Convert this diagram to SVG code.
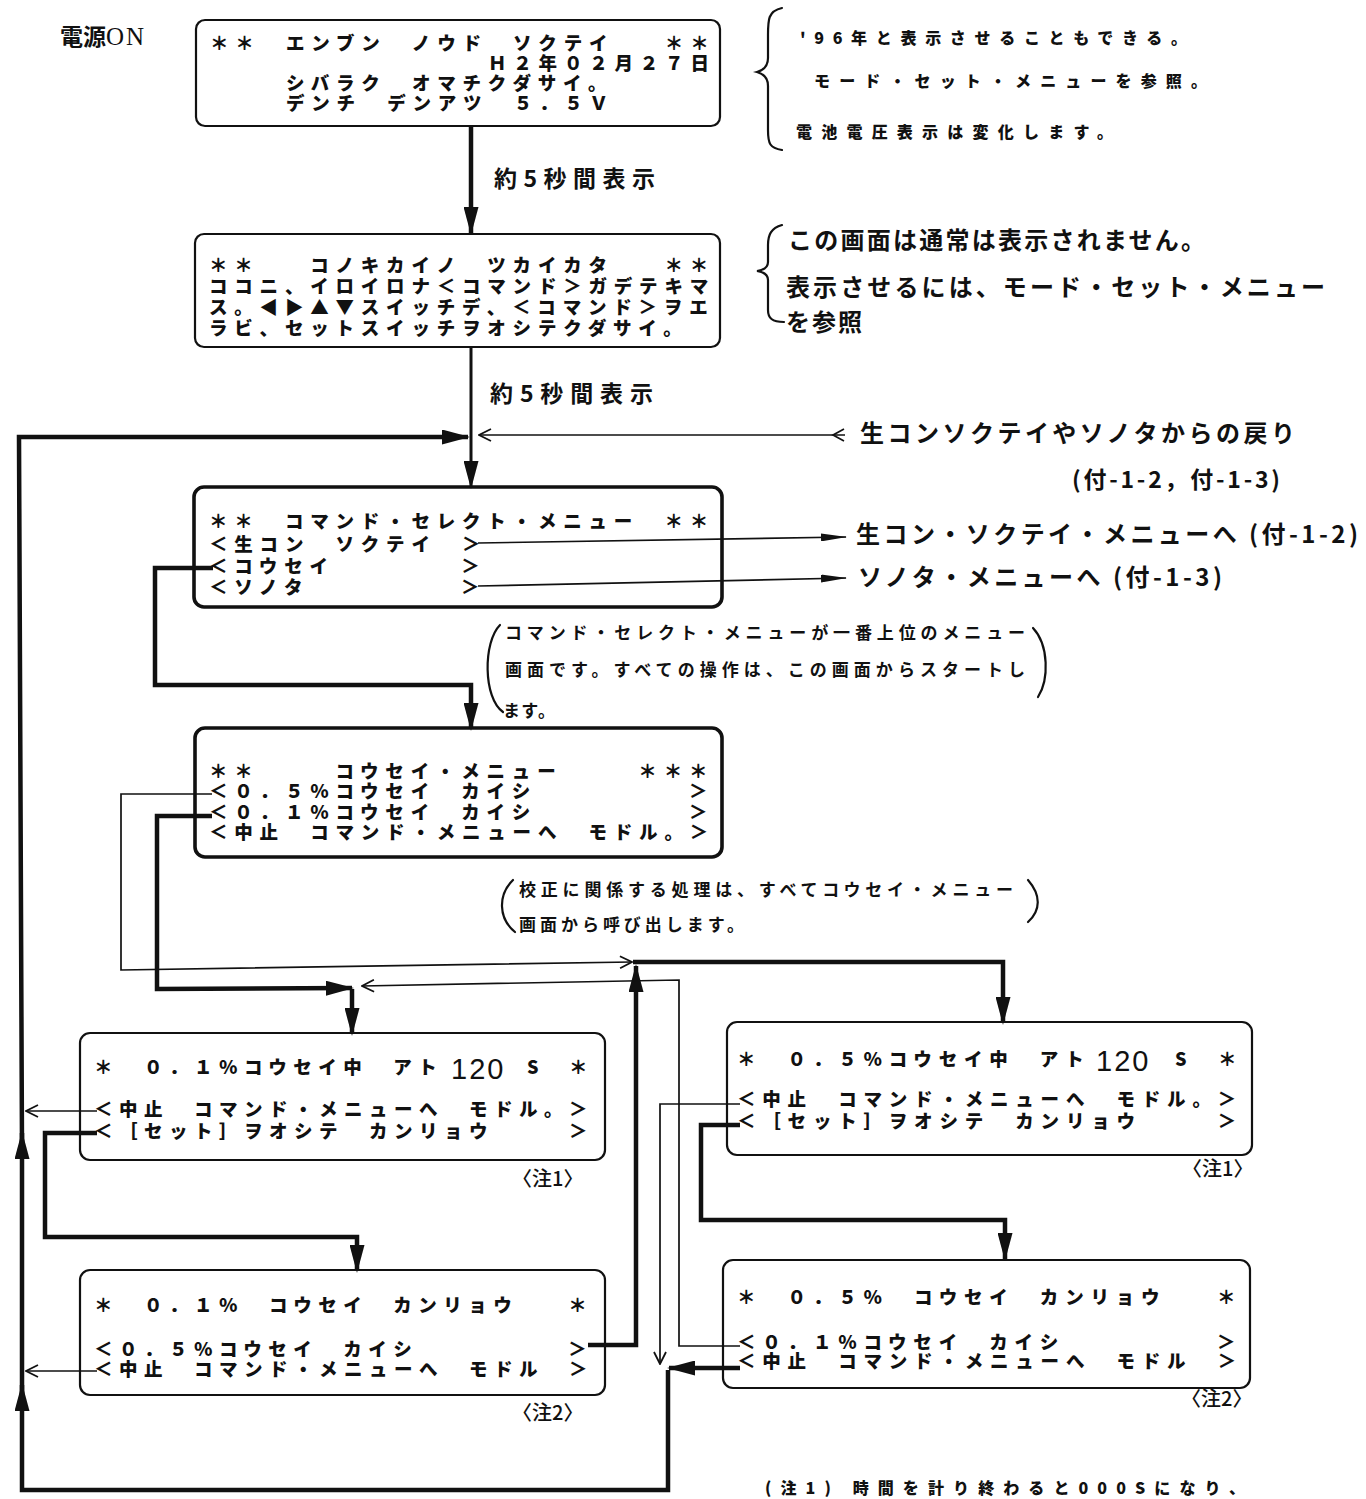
<svg xmlns="http://www.w3.org/2000/svg" width="1366" height="1499" viewBox="0 0 1366 1499">
<defs>
<style>
.bg{fill:#fff}
.box{fill:none;stroke:#111;stroke-width:2.2}
.boxb{fill:none;stroke:#111;stroke-width:3.6}
.lcd{font-family:"Noto Sans CJK JP","Noto Sans CJK SC",sans-serif;font-weight:900;font-size:18.5px;letter-spacing:6.8px;fill:#111}
.lcd25{letter-spacing:6.5px}
.num{font-family:"Liberation Sans",sans-serif;font-weight:400;font-size:29px;letter-spacing:2px;fill:#111}
.s{font-family:"Noto Sans CJK JP",sans-serif;font-weight:900;font-size:18px;fill:#111}
.lbl{font-family:"Noto Sans CJK JP","Noto Sans CJK SC",sans-serif;font-weight:700;font-size:23px;fill:#111}
.chu{font-family:"Noto Sans CJK JP","Noto Sans CJK SC",sans-serif;font-weight:500;font-size:20px;fill:#111}
.big{font-family:"Noto Sans CJK JP","Noto Sans CJK SC",sans-serif;font-weight:700;font-size:24px;fill:#111}
.note{font-family:"Noto Sans CJK JP","Noto Sans CJK SC",sans-serif;font-weight:900;font-size:16px;fill:#111}
.note2{font-family:"Noto Sans CJK JP","Noto Sans CJK SC",sans-serif;font-weight:700;font-size:17px;fill:#111}
.thick{fill:none;stroke:#111;stroke-width:4.5;stroke-linejoin:miter}
.med{fill:none;stroke:#111;stroke-width:3}
.thin{fill:none;stroke:#111;stroke-width:1.7}
.br{fill:none;stroke:#111;stroke-width:2.2;stroke-linecap:round}
</style>
<marker id="fa" markerUnits="userSpaceOnUse" viewBox="0 0 28 15" markerWidth="28" markerHeight="15" refX="26" refY="7.5" orient="auto">
<path d="M0,0 L28,7.5 L0,15 z" fill="#111"/>
</marker>
<marker id="ta" markerUnits="userSpaceOnUse" viewBox="0 0 26 8" markerWidth="26" markerHeight="8" refX="25" refY="4" orient="auto">
<path d="M0,0 L26,4 L0,8 z" fill="#111"/>
</marker>
<marker id="oa" markerUnits="userSpaceOnUse" viewBox="0 0 14 14" markerWidth="14" markerHeight="14" refX="13" refY="7" orient="auto">
<path d="M1,1 L13,7 L1,13" fill="none" stroke="#111" stroke-width="1.8"/>
</marker>
</defs>
<rect class="bg" x="0" y="0" width="1366" height="1499"/>

<g id="power-on">
<text x="60" y="45" class="lbl" font-size="22">電源<tspan font-family="Liberation Serif" font-weight="400" font-size="25" letter-spacing="2">ON</tspan></text>
</g>

<g id="box-startup">
<rect class="box" x="196" y="20" width="524" height="106" rx="9"/>
<text class="lcd"><tspan x="210" y="50">＊＊　エンブン　ノウド　ソクテイ　　＊＊</tspan><tspan x="488" y="70">Ｈ２年０２月２７日</tspan><tspan x="286" y="90">シバラク　オマチクダサイ。</tspan><tspan x="286" y="110">デンチ　デンアツ　５．５Ｖ</tspan></text>
</g>

<g id="note-startup">
<path class="br" d="M782,8 C768,11 768,20 768,35 L768,58 C768,66 764,70 757,72 C764,74 768,78 768,86 L768,130 C768,144 770,148 782,150"/>
<text class="note" x="800" y="44" textLength="387" lengthAdjust="spacing">'96年と表示させることもできる。</text>
<text class="note" x="814" y="87" textLength="393" lengthAdjust="spacing">モード・セット・メニューを参照。</text>
<text class="note" x="796" y="138" textLength="317" lengthAdjust="spacing">電池電圧表示は変化します。</text>
</g>

<g id="box-howto">
<rect class="box" x="195" y="234" width="525" height="113" rx="9"/>
<text class="lcd"><tspan x="209" y="272">＊＊　　コノキカイノ　ツカイカタ　　＊＊</tspan><tspan x="209" y="293">ココニ、イロイロナ＜コマンド＞ガデテキマ</tspan><tspan x="209" y="314">ス。◀▶▲▼スイッチデ、＜コマンド＞ヲエ</tspan><tspan x="209" y="335">ラビ、セットスイッチヲオシテクダサイ。</tspan></text>
</g>

<g id="note-howto">
<path class="br" d="M782,225 C771,228 768,235 768,245 L768,262 C768,267 764,270 757,271 C764,272 768,275 768,280 L768,310 C768,318 772,322 784,322"/>
<text class="big" x="788" y="249" textLength="417" lengthAdjust="spacing">この画面は通常は表示されません。</text>
<text class="big" x="786" y="296" textLength="539" lengthAdjust="spacing">表示させるには、モード・セット・メニュー</text>
<text class="big" x="786" y="331" textLength="76" lengthAdjust="spacing">を参照</text>
</g>

<g id="labels-wait">
<text class="lbl" x="494" y="187" textLength="161" lengthAdjust="spacing">約5秒間表示</text>
<text class="lbl" x="490" y="402" textLength="163" lengthAdjust="spacing">約5秒間表示</text>
</g>

<g id="label-return">
<text class="big" x="860" y="442" textLength="435" lengthAdjust="spacing">生コンソクテイやソノタからの戻り</text>
<text class="lbl" x="1072" y="488" textLength="208" lengthAdjust="spacing">(付-1-2，付-1-3)</text>
</g>

<g id="box-command-select">
<rect class="boxb" x="194" y="487" width="528" height="120" rx="10"/>
<text class="lcd"><tspan x="209" y="528">＊＊　コマンド・セレクト・メニュー　＊＊</tspan><tspan x="209" y="551">＜生コン　ソクテイ　＞</tspan><tspan x="209" y="573">＜コウセイ　　　　　＞</tspan><tspan x="209" y="594">＜ソノタ　　　　　　＞</tspan></text>
</g>

<g id="label-namacon">
<text class="big" x="856" y="543" textLength="502" lengthAdjust="spacing">生コン・ソクテイ・メニューへ (付-1-2)</text>
</g>
<g id="label-sonota">
<text class="big" x="858" y="586" textLength="364" lengthAdjust="spacing">ソノタ・メニューへ (付-1-3)</text>
</g>

<g id="note-command">
<path class="br" d="M500,625 C483,642 483,698 503,712"/>
<path class="br" d="M1033,628 C1049,645 1049,680 1038,697"/>
<text class="note2" x="505" y="639" textLength="520" lengthAdjust="spacing">コマンド・セレクト・メニューが一番上位のメニュー</text>
<text class="note2" x="505" y="676" textLength="520" lengthAdjust="spacing">画面です。すべての操作は、この画面からスタートし</text>
<text class="note2" x="503" y="717" textLength="52" lengthAdjust="spacing">ます。</text>
</g>

<g id="box-kousei-menu">
<rect class="boxb" x="195" y="728" width="527" height="129" rx="10"/>
<text class="lcd"><tspan x="209" y="778">＊＊　　　コウセイ・メニュー　　　＊＊＊</tspan><tspan x="209" y="798">＜０．５％コウセイ　カイシ　　　　　　＞</tspan><tspan x="209" y="819">＜０．１％コウセイ　カイシ　　　　　　＞</tspan><tspan x="209" y="839">＜中止　コマンド・メニューへ　モドル。＞</tspan></text>
</g>

<g id="note-kousei">
<path class="br" d="M513,880 C498,895 498,918 515,932"/>
<path class="br" d="M1028,880 C1041,895 1041,910 1028,922"/>
<text class="note2" x="519" y="896" textLength="494" lengthAdjust="spacing">校正に関係する処理は、すべてコウセイ・メニュー</text>
<text class="note2" x="519" y="931" textLength="225" lengthAdjust="spacing">画面から呼び出します。</text>
</g>

<g id="box-01-running">
<rect class="box" x="80" y="1033" width="525" height="127" rx="10"/>
<text class="lcd lcd25"><tspan x="94" y="1074">＊　０．１％コウセイ中　アト</tspan><tspan x="569" y="1074">＊</tspan><tspan x="94" y="1116">＜中止　コマンド・メニューへ　モドル。＞</tspan><tspan x="94" y="1138">＜［セット］ヲオシテ　カンリョウ　　　＞</tspan></text>
<text class="num" x="451" y="1079">120</text>
<text class="s" x="527" y="1074">S</text>
<text class="chu" x="512" y="1186">〈注1〉</text>
</g>

<g id="box-01-done">
<rect class="box" x="80" y="1270" width="525" height="125" rx="10"/>
<text class="lcd lcd25"><tspan x="94" y="1312">＊　０．１％　コウセイ　カンリョウ　　＊</tspan><tspan x="94" y="1356">＜０．５％コウセイ　カイシ　　　　　　＞</tspan><tspan x="94" y="1376">＜中止　コマンド・メニューへ　モドル　＞</tspan></text>
<text class="chu" x="512" y="1420">〈注2〉</text>
</g>

<g id="box-05-running">
<rect class="box" x="727" y="1022" width="525" height="133" rx="10"/>
<text class="lcd"><tspan x="737" y="1066">＊　０．５％コウセイ中　アト</tspan><tspan x="1218" y="1066">＊</tspan><tspan x="737" y="1106">＜中止　コマンド・メニューへ　モドル。＞</tspan><tspan x="737" y="1128">＜［セット］ヲオシテ　カンリョウ　　　＞</tspan></text>
<text class="num" x="1096" y="1071">120</text>
<text class="s" x="1175" y="1066">S</text>
<text class="chu" x="1182" y="1176">〈注1〉</text>
</g>

<g id="box-05-done">
<rect class="box" x="723" y="1260" width="527" height="128" rx="10"/>
<text class="lcd"><tspan x="737" y="1304">＊　０．５％　コウセイ　カンリョウ　　＊</tspan><tspan x="737" y="1349">＜０．１％コウセイ　カイシ　　　　　　＞</tspan><tspan x="737" y="1368">＜中止　コマンド・メニューへ　モドル　＞</tspan></text>
<text class="chu" x="1181" y="1406">〈注2〉</text>
</g>

<g id="footnote">
<text class="note" x="765" y="1494" textLength="480" lengthAdjust="spacing">(注1) 時間を計り終わると000Sになり、</text>
</g>

<g id="connectors">
<path class="thick" d="M471,126 L471,233" marker-end="url(#fa)"/>
<path class="med" d="M471,347 L471,487" marker-end="url(#fa)"/>
<path class="thick" d="M668,1370 L668,1490 L22,1490 L22,1385" marker-end="url(#fa)"/>
<path class="thick" d="M22,1400 L22,1133" marker-end="url(#fa)"/>
<path class="thick" d="M22,1150 L19,437 L468,437" marker-end="url(#fa)"/>
<path class="thin" d="M845,435 L479,435" marker-end="url(#oa)"/>
<path class="thin" d="M844,429 L833,435 L844,441"/>
<path class="thin" d="M478,543 L846,537" marker-end="url(#ta)"/>
<path class="thin" d="M478,586 L846,578" marker-end="url(#ta)"/>
<path class="thick" d="M213,568 L155,568 L155,685 L471,685 L471,729" marker-end="url(#fa)"/>
<path class="thin" d="M212,794 L121,794 L121,970 L632,962" marker-end="url(#oa)"/>
<path class="thick" d="M212,816 L157,816 L157,989 L352,988" marker-end="url(#fa)"/>
<path class="thick" d="M352,989 L352,1034" marker-end="url(#fa)"/>
<path class="thick" d="M633,962 L1003,962 L1003,1023" marker-end="url(#fa)"/>
<path class="thick" d="M588,1345 L636,1345 L636,966" marker-end="url(#fa)"/>
<path class="thin" d="M740,1346 L679,1346 L679,980 L362,986" marker-end="url(#oa)"/>
<path class="thin" d="M740,1104 L660,1104 L660,1364" marker-end="url(#oa)"/>
<path class="thick" d="M740,1368 L669,1368" marker-end="url(#fa)"/>
<path class="thick" d="M97,1133 L45,1133 L45,1237 L357,1237 L357,1271" marker-end="url(#fa)"/>
<path class="thick" d="M740,1125 L701,1125 L701,1220 L1005,1220 L1005,1259" marker-end="url(#fa)"/>
<path class="thin" d="M97,1111 L26,1111" marker-end="url(#oa)"/>
<path class="thin" d="M97,1371 L26,1371" marker-end="url(#oa)"/>
</g>
</svg>
